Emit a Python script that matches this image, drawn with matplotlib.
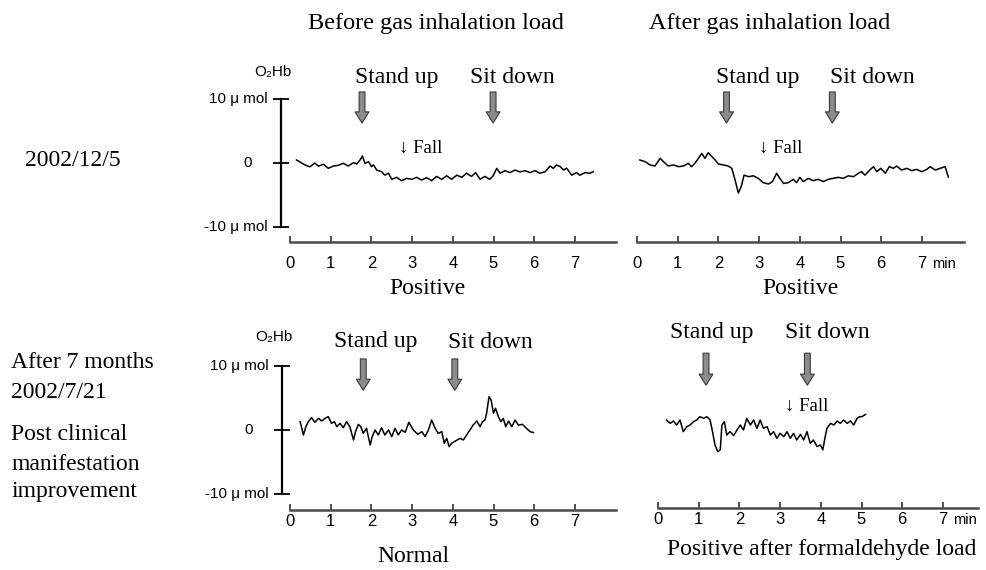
import numpy as np
import matplotlib.pyplot as plt

# O2Hb traces (umol), time in minutes
t_before_1 = [0.16, 0.37, 0.49, 0.61, 0.70, 0.82, 0.94, 1.07, 1.19, 1.31, 1.43, 1.56, 1.64, 1.72, 1.78,
              1.84, 1.93, 2.00, 2.05, 2.13, 2.25, 2.33, 2.42, 2.50, 2.62, 2.74, 2.87, 2.99, 3.11, 3.23,
              3.36, 3.48, 3.60, 3.73, 3.85, 3.97, 4.10, 4.22, 4.34, 4.46, 4.56, 4.67, 4.79, 4.91, 4.99,
              5.08, 5.16, 5.28, 5.40, 5.53, 5.65, 5.77, 5.90, 6.02, 6.14, 6.27, 6.39, 6.47, 6.55, 6.64,
              6.72, 6.80, 6.92, 7.04, 7.12, 7.25, 7.37, 7.45]
v_before_1 = [0.47, -0.31, -0.6, 0.0, -0.5, -0.2, -0.83, -0.47, -0.36, -0.05, -0.47, 0.05, -0.16, 0.47, 1.09,
              -0.05, 0.2, -0.57, -0.3, -1.1, -1.36, -1.9, -1.6, -2.55, -2.24, -2.76, -2.4, -2.55, -2.24, -2.66,
              -2.3, -2.76, -2.1, -2.55, -2.0, -2.55, -1.9, -2.24, -1.6, -2.1, -1.5, -2.55, -2.1, -2.55, -2.0,
              -0.83, -1.6, -1.2, -1.5, -1.1, -1.4, -1.2, -1.5, -1.2, -1.6, -1.36, -0.47, -0.83, -0.31, -0.57,
              -1.1, -0.83, -1.9, -1.5, -1.9, -1.5, -1.6, -1.36]

t_after_1 = [0.07, 0.20, 0.32, 0.44, 0.57, 0.65, 0.77, 0.89, 1.02, 1.14, 1.26, 1.34, 1.42, 1.51, 1.59,
             1.67, 1.75, 1.84, 1.92, 2.00, 2.12, 2.24, 2.33, 2.41, 2.49, 2.56, 2.63, 2.74, 2.86, 2.98,
             3.10, 3.23, 3.33, 3.43, 3.51, 3.60, 3.72, 3.84, 3.92, 4.00, 4.09, 4.21, 4.33, 4.45, 4.58,
             4.70, 4.82, 4.95, 5.07, 5.19, 5.32, 5.44, 5.52, 5.60, 5.72, 5.81, 5.89, 5.99, 6.10, 6.20,
             6.30, 6.38, 6.50, 6.63, 6.75, 6.87, 7.00, 7.12, 7.20, 7.33, 7.45, 7.57, 7.65]
v_after_1 = [0.47, 0.21, -0.3, -0.47, 0.73, 0.2, -0.47, -0.3, -0.57, -0.47, -0.05, -0.57, -0.05, 0.73, 1.5,
             0.73, 1.6, 0.99, 0.47, -0.16, -0.3, -0.47, -0.83, -2.66, -4.7, -3.7, -1.9, -2.14, -2.0, -2.4,
             -3.07, -3.28, -2.9, -1.6, -2.4, -3.2, -3.07, -2.55, -3.07, -2.24, -2.9, -2.4, -2.76, -2.55, -2.9,
             -2.55, -2.4, -2.24, -2.4, -2.0, -2.14, -1.6, -1.36, -1.9, -1.1, -0.57, -1.36, -0.83, -1.6, -0.57,
             -0.83, -0.47, -1.1, -0.83, -1.2, -0.99, -1.36, -0.99, -0.57, -1.1, -0.83, -0.57, -2.2]

t_before_2 = [0.25, 0.33, 0.39, 0.45, 0.53, 0.61, 0.70, 0.78, 0.86, 0.94, 1.02, 1.09, 1.15, 1.23, 1.31,
              1.39, 1.47, 1.56, 1.61, 1.68, 1.74, 1.80, 1.88, 1.97, 2.02, 2.09, 2.17, 2.25, 2.33, 2.42,
              2.50, 2.58, 2.66, 2.74, 2.83, 2.92, 3.03, 3.14, 3.24, 3.32, 3.40, 3.48, 3.56, 3.64, 3.73,
              3.79, 3.85, 3.91, 3.97, 4.07, 4.18, 4.26, 4.34, 4.42, 4.50, 4.59, 4.67, 4.73, 4.79, 4.83,
              4.89, 4.94, 5.00, 5.05, 5.12, 5.18, 5.24, 5.30, 5.37, 5.45, 5.53, 5.61, 5.71, 5.81, 5.90, 5.98]
v_before_2 = [1.3, -0.78, 0.52, 1.3, 1.93, 1.2, 1.82, 1.4, 1.82, 2.08, 1.04, 1.3, 0.52, 1.04, 0.36,
              1.3, 0.52, -1.56, -0.26, 0.88, 0.52, -0.52, 0.26, -2.34, -1.04, 0.0, -0.78, 0.36, -0.78, 0.0,
              -1.04, 0.26, -0.78, 0.0, -0.36, 1.2, 0.0, -0.67, -0.26, -1.04, 0.0, 1.56, 0.36, -0.52, -0.26,
              -2.08, -1.3, -2.6, -2.08, -1.7, -1.3, -1.56, -0.78, 0.0, 0.78, 1.4, 0.52, 1.3, 1.56, 2.6,
              5.2, 4.7, 2.6, 3.4, 2.08, 1.3, 1.82, 0.52, 1.4, 0.52, 1.56, 0.78, 0.88, 0.26, -0.26, -0.4]

t_after_2 = [0.21, 0.30, 0.38, 0.46, 0.54, 0.62, 0.71, 0.79, 0.87, 0.95, 1.03, 1.12, 1.20, 1.28, 1.34,
             1.40, 1.47, 1.53, 1.57, 1.63, 1.69, 1.77, 1.86, 1.94, 2.02, 2.10, 2.18, 2.27, 2.35, 2.43,
             2.51, 2.59, 2.68, 2.76, 2.84, 2.92, 3.00, 3.09, 3.17, 3.25, 3.33, 3.41, 3.50, 3.58, 3.66,
             3.74, 3.82, 3.91, 3.99, 4.05, 4.10, 4.15, 4.24, 4.32, 4.40, 4.48, 4.56, 4.65, 4.73, 4.81,
             4.89, 4.95, 5.01, 5.10]
v_after_2 = [1.56, 1.04, 1.4, 0.78, 1.56, -0.26, 0.52, 0.78, 1.3, 1.56, 2.08, 1.82, 2.08, 1.56, -0.26,
             -2.34, -3.38, -3.1, 0.78, 1.3, -0.78, -0.26, -0.88, 0.0, 0.78, 0.0, 1.82, 0.78, 1.56, 0.26,
             1.56, 0.26, 0.52, -0.78, -0.26, -1.3, -0.52, -1.04, -0.26, -1.3, -0.52, -1.56, -0.67, -1.56, -0.26,
             -2.08, -1.56, -2.6, -2.34, -3.1, -1.3, 0.26, 1.04, 0.78, 1.4, 1.04, 1.56, 1.04, 1.4, 0.78,
             1.82, 2.08, 2.08, 2.43]

# event times (min) for each panel: before/after, then 2002/12/5 row and 7-month row
stand_up = [1.77, 2.2, 1.8, 1.18]
sit_down = [4.99, 4.8, 4.05, 3.67]
stand_text = [2.63, 2.96, 2.11, 1.33]
sit_text = [5.46, 5.77, 4.93, 4.16]
fall_at = [3.22, 3.54, None, 3.65]

x_ticks = [0, 1, 2, 3, 4, 5, 6, 7]
y_ticks = [10, 0, -10]
y_tick_labels = ['10 μ mol', '0', '-10 μ mol']
panel_names = ['Positive', 'Positive', 'Normal', 'Positive after formaldehyde load']

W, H = 986, 570
PX_MIN = 40.7   # pixels per minute
PX_UNIT = 6.4   # pixels per umol

serif = ['Liberation Serif', 'DejaVu Serif']
sans = ['Liberation Sans Narrow', 'Liberation Sans', 'DejaVu Sans']

fig = plt.figure(figsize=(W / 100, H / 100), dpi=100)
fig.patch.set_facecolor('white')

# x0, y0 = pixel of t=0 / value 0 ; box = left, right, top, bottom in pixels
layout = [
    dict(x0=290, y0=163, box=(281, 616, 60, 242), yaxis=True, arrow=(11.1, 6.25), txt=13.4, fall=2.3,
         mins=False, pad=10, min_off=-15.5),
    dict(x0=637, y0=163, box=(630, 964, 60, 242), yaxis=False, arrow=(11.1, 6.25), txt=13.4, fall=2.3,
         mins=True, pad=10, min_off=-15.5),
    dict(x0=290, y0=430, box=(282, 616, 325, 510), yaxis=True, arrow=(11.1, 6.2), txt=13.75, fall=0,
         mins=False, pad=3, min_off=-8.5),
    dict(x0=658, y0=430, box=(650, 978, 325, 508), yaxis=False, arrow=(12.0, 7.0), txt=15.2, fall=3.75,
         mins=True, pad=3, min_off=-8.5),
]
traces = [(t_before_1, v_before_1), (t_after_1, v_after_1),
          (t_before_2, v_before_2), (t_after_2, v_after_2)]

for i, cfg in enumerate(layout):
    l, r, tp, b = cfg['box']
    ax = fig.add_axes([l / W, 1 - b / H, (r - l) / W, (b - tp) / H])
    ax.patch.set_alpha(0)
    xmax = (r - cfg['x0']) / PX_MIN
    ax.set_xlim((l - cfg['x0']) / PX_MIN, xmax)
    ax.set_ylim((cfg['y0'] - b) / PX_UNIT, (cfg['y0'] - tp) / PX_UNIT)

    t, v = traces[i]
    ax.plot(t, v, color='black', lw=1.1)

    for s in ['top', 'right']:
        ax.spines[s].set_visible(False)
    ax.spines['bottom'].set_bounds(0, xmax)
    ax.spines['bottom'].set_color('#4a4a4a')
    ax.spines['bottom'].set_linewidth(1.8)

    ax.set_xticks(x_ticks)
    ax.set_xticklabels([str(x) for x in x_ticks], family=sans, fontsize=12)
    ax.tick_params(axis='x', direction='in', length=4.5, width=1.2, pad=cfg['pad'], color='#333333')

    if cfg['yaxis']:
        ax.spines['left'].set_bounds(-10, 10)
        ax.spines['left'].set_linewidth(1.6)
        ax.set_yticks(y_ticks)
        ax.set_yticklabels([])
        ax.tick_params(axis='y', direction='inout', length=12, width=1.3)
        for val, lab in zip(y_ticks, y_tick_labels):
            off = -21 if val == 0 else -9.4
            ax.annotate(lab, xy=(0, val), xycoords=('axes fraction', 'data'), xytext=(off, 0),
                        textcoords='offset points', ha='right', va='center', family=sans, fontsize=11)
        ax.annotate('O₂Hb', xy=(0, cfg['txt'] + 0.8), xycoords=('axes fraction', 'data'), xytext=(-6, 0),
                    textcoords='offset points', ha='center', va='center', family=sans, fontsize=11)
    else:
        ax.spines['left'].set_visible(False)
        ax.set_yticks([])

    if cfg['mins']:
        ax.annotate('min', xy=(7.55, 0), xycoords=('data', 'axes fraction'), xytext=(0, cfg['min_off']),
                    textcoords='offset points', ha='center', va='center', family=sans, fontsize=10.5)

    # posture change arrows
    tail, tip = cfg['arrow']
    for at in [stand_up[i], sit_down[i]]:
        ax.annotate('', xy=(at, tip), xytext=(at, tail), annotation_clip=False,
                    arrowprops=dict(arrowstyle='simple,head_length=0.8,head_width=1.0,tail_width=0.42',
                                    mutation_scale=10, fc='#8c8c8c', ec='#3a3a3a', lw=0.8,
                                    shrinkA=0, shrinkB=0))
    ax.text(stand_text[i], cfg['txt'], 'Stand up', ha='center', va='center', family=serif, fontsize=17, clip_on=False)
    ax.text(sit_text[i], cfg['txt'], 'Sit down', ha='center', va='center', family=serif, fontsize=17, clip_on=False)
    if fall_at[i] is not None:
        ax.text(fall_at[i], cfg['fall'], '↓ Fall', ha='center', va='center', family=serif, fontsize=13.5, clip_on=False)

# column titles, panel captions and row labels
fig.text(436 / W, 1 - 24 / H, 'Before gas inhalation load', ha='center', va='center', family=serif, fontsize=17.5)
fig.text(770 / W, 1 - 24 / H, 'After gas inhalation load', ha='center', va='center', family=serif, fontsize=17.5)
captions_xy = [(427, 288), (800, 288), (413, 557), (822, 550)]
for name, (cx, cy) in zip(panel_names, captions_xy):
    fig.text(cx / W, 1 - cy / H, name, ha='center', va='center', family=serif, fontsize=17)

row_labels = [('2002/12/5', 25, 160), ('After 7 months', 11, 363), ('2002/7/21', 11, 393),
              ('Post clinical', 11, 435), ('manifestation', 11, 464), ('improvement', 11, 492)]
for txt, px, py in row_labels:
    fig.text(px / W, 1 - py / H, txt, ha='left', va='center', family=serif, fontsize=17)

plt.savefig('out.png', dpi=100)
